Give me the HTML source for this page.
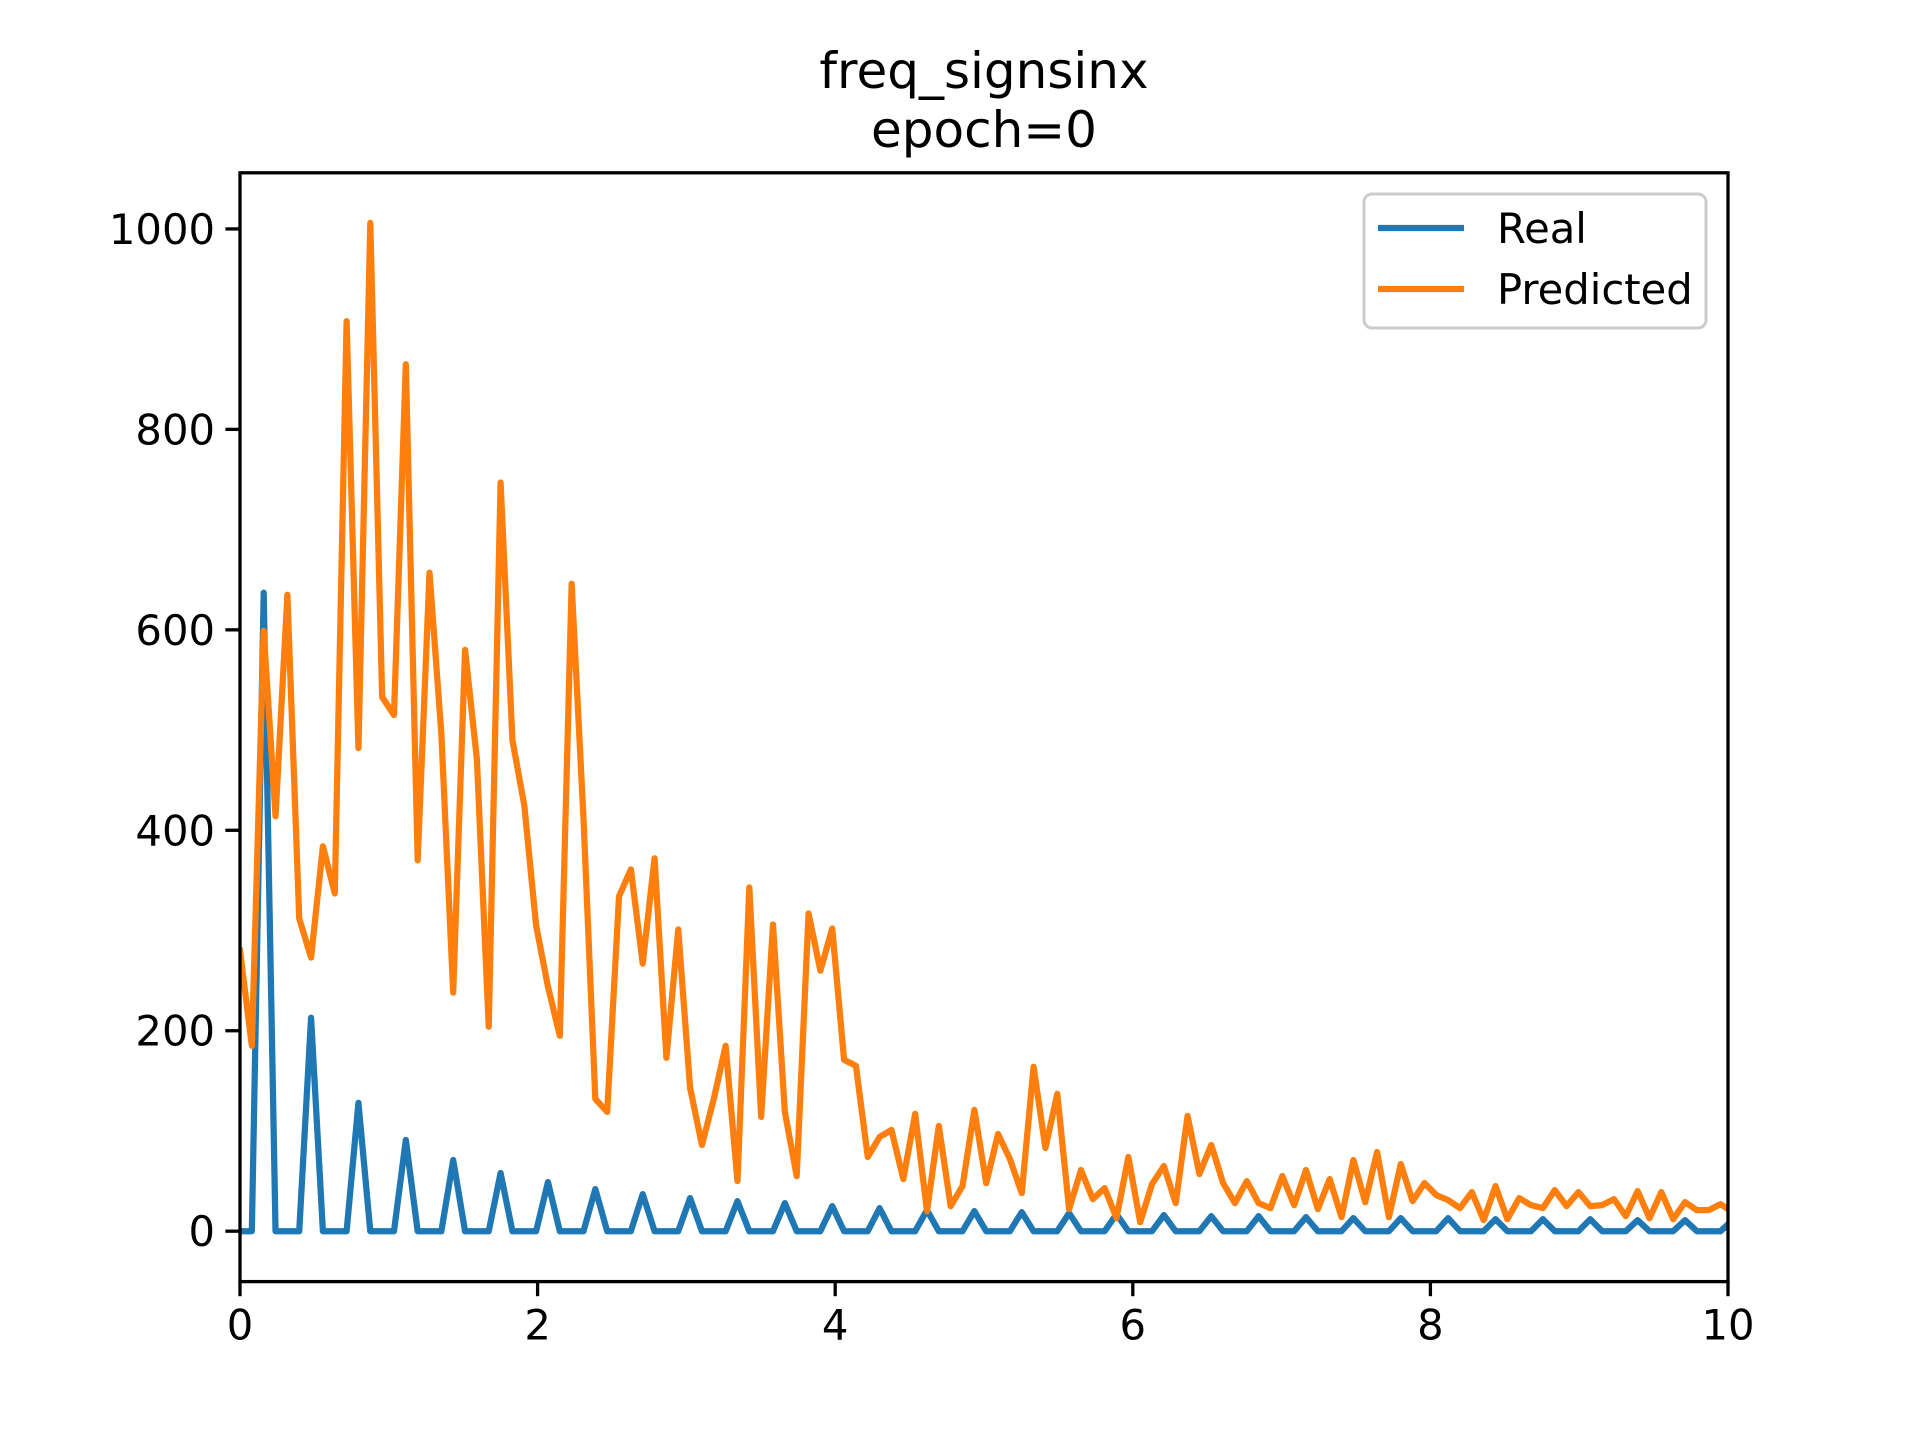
<!DOCTYPE html>
<html><head><meta charset="utf-8">
<style>
html,body{margin:0;padding:0;background:#fff;}
svg{display:block;font-family:"DejaVu Sans","Liberation Sans",sans-serif;}
</style></head>
<body>
<svg id="chart" width="1920" height="1440" viewBox="0 0 1920 1440" xmlns="http://www.w3.org/2000/svg">
<rect width="1920" height="1440" fill="#fff"/>
<defs><clipPath id="clip"><rect x="240" y="172.8" width="1488" height="1108.8"/></clipPath></defs>
<text x="984" y="88" text-anchor="middle" font-size="50">freq_signsinx</text>
<text x="984" y="147" text-anchor="middle" font-size="50">epoch=0</text>
<g id="series" clip-path="url(#clip)"></g>
<g id="axes"></g>
<g>
<rect x="1364" y="194" width="342" height="134" rx="8" fill="#fff" fill-opacity="0.8" stroke="#cccccc" stroke-width="3"/>
<line x1="1378" y1="228" x2="1464" y2="228" stroke="#1f77b4" stroke-width="6.25"/>
<text x="1497" y="243" font-size="41.7">Real</text>
<line x1="1378" y1="289" x2="1464" y2="289" stroke="#ff7f0e" stroke-width="6.25"/>
<text x="1497" y="304" font-size="41.7">Predicted</text>
</g>
</svg>
<script>
const dx = 0.0796;
const realPeaks = [637,213,128,91,71,58,49,42,37,33,30,28,25,23,21,20,19,18,17,16,15,15,14,13,13,13,12,12,12,11,11,11];
const predicted = [280,185,599,414,635,312,273,384,337,908,482,1006,533,515,865,370,657,496,238,580,471,204,747,490,425,305,244,195,646,412,132,119,334,361,267,372,173,301,143,86,132,185,50,343,114,306,119,55,317,260,302,171,165,74,94,101,52,117,20,105,25,45,121,48,97,72,38,164,83,137,22,61,32,43,13,74,9,47,65,28,115,57,86,48,28,50,28,23,55,26,61,22,52,14,71,29,79,14,67,30,48,36,31,23,39,11,45,12,33,26,23,41,25,39,25,26,32,15,40,13,39,12,29,21,21,27,19];
const xTicks = [0,2,4,6,8,10];
const yTicks = [0,200,400,600,800,1000];

const L=240,R=1728,T=172.8,B=1281.6;
const xmin=0,xmax=10,ymin=-50.3,ymax=1056;
const sx=v=>L+(v-xmin)/(xmax-xmin)*(R-L);
const sy=v=>B-(v-ymin)/(ymax-ymin)*(B-T);
const NS="http://www.w3.org/2000/svg";

const real = predicted.map((_,i)=> (i%4===2) ? realPeaks[(i-2)/4] : 0);

const series=document.getElementById('series');
function line(vals,color,name){
  const p=document.createElementNS(NS,'path');
  p.setAttribute('d',vals.map((v,i)=>(i?'L':'M')+sx(i*dx).toFixed(2)+','+sy(v).toFixed(2)).join(''));
  p.setAttribute('fill','none');p.setAttribute('stroke',color);
  p.setAttribute('stroke-width','6.25');p.setAttribute('stroke-linejoin','round');p.setAttribute('stroke-linecap','square');
  
  
  series.appendChild(p);
}
line(real,'#1f77b4','real-line');
line(predicted,'#ff7f0e','predicted-line');

const axes=document.getElementById('axes');
const frame=document.createElementNS(NS,'rect');
frame.setAttribute('x',L);frame.setAttribute('y',T);frame.setAttribute('width',R-L);frame.setAttribute('height',B-T);
frame.setAttribute('fill','none');frame.setAttribute('stroke','#000');frame.setAttribute('stroke-width','3.3');


axes.appendChild(frame);

xTicks.forEach(t=>{
  const x=sx(t);
  const l=document.createElementNS(NS,'line');
  l.setAttribute('x1',x);l.setAttribute('x2',x);l.setAttribute('y1',B);l.setAttribute('y2',B+14.6);
  l.setAttribute('stroke','#000');l.setAttribute('stroke-width','3.3');
  
  
  axes.appendChild(l);
  const tx=document.createElementNS(NS,'text');
  tx.setAttribute('x',x);tx.setAttribute('y',B+58);tx.setAttribute('text-anchor','middle');tx.setAttribute('font-size','41.7');
  tx.textContent=t;
  
  
  axes.appendChild(tx);
});
yTicks.forEach(t=>{
  const y=sy(t);
  const l=document.createElementNS(NS,'line');
  l.setAttribute('x1',L-14.6);l.setAttribute('x2',L);l.setAttribute('y1',y);l.setAttribute('y2',y);
  l.setAttribute('stroke','#000');l.setAttribute('stroke-width','3.3');
  
  
  axes.appendChild(l);
  const tx=document.createElementNS(NS,'text');
  tx.setAttribute('x',L-25);tx.setAttribute('y',y+15);tx.setAttribute('text-anchor','end');tx.setAttribute('font-size','41.7');
  tx.textContent=t;
  
  
  axes.appendChild(tx);
});
</script>
</body></html>
